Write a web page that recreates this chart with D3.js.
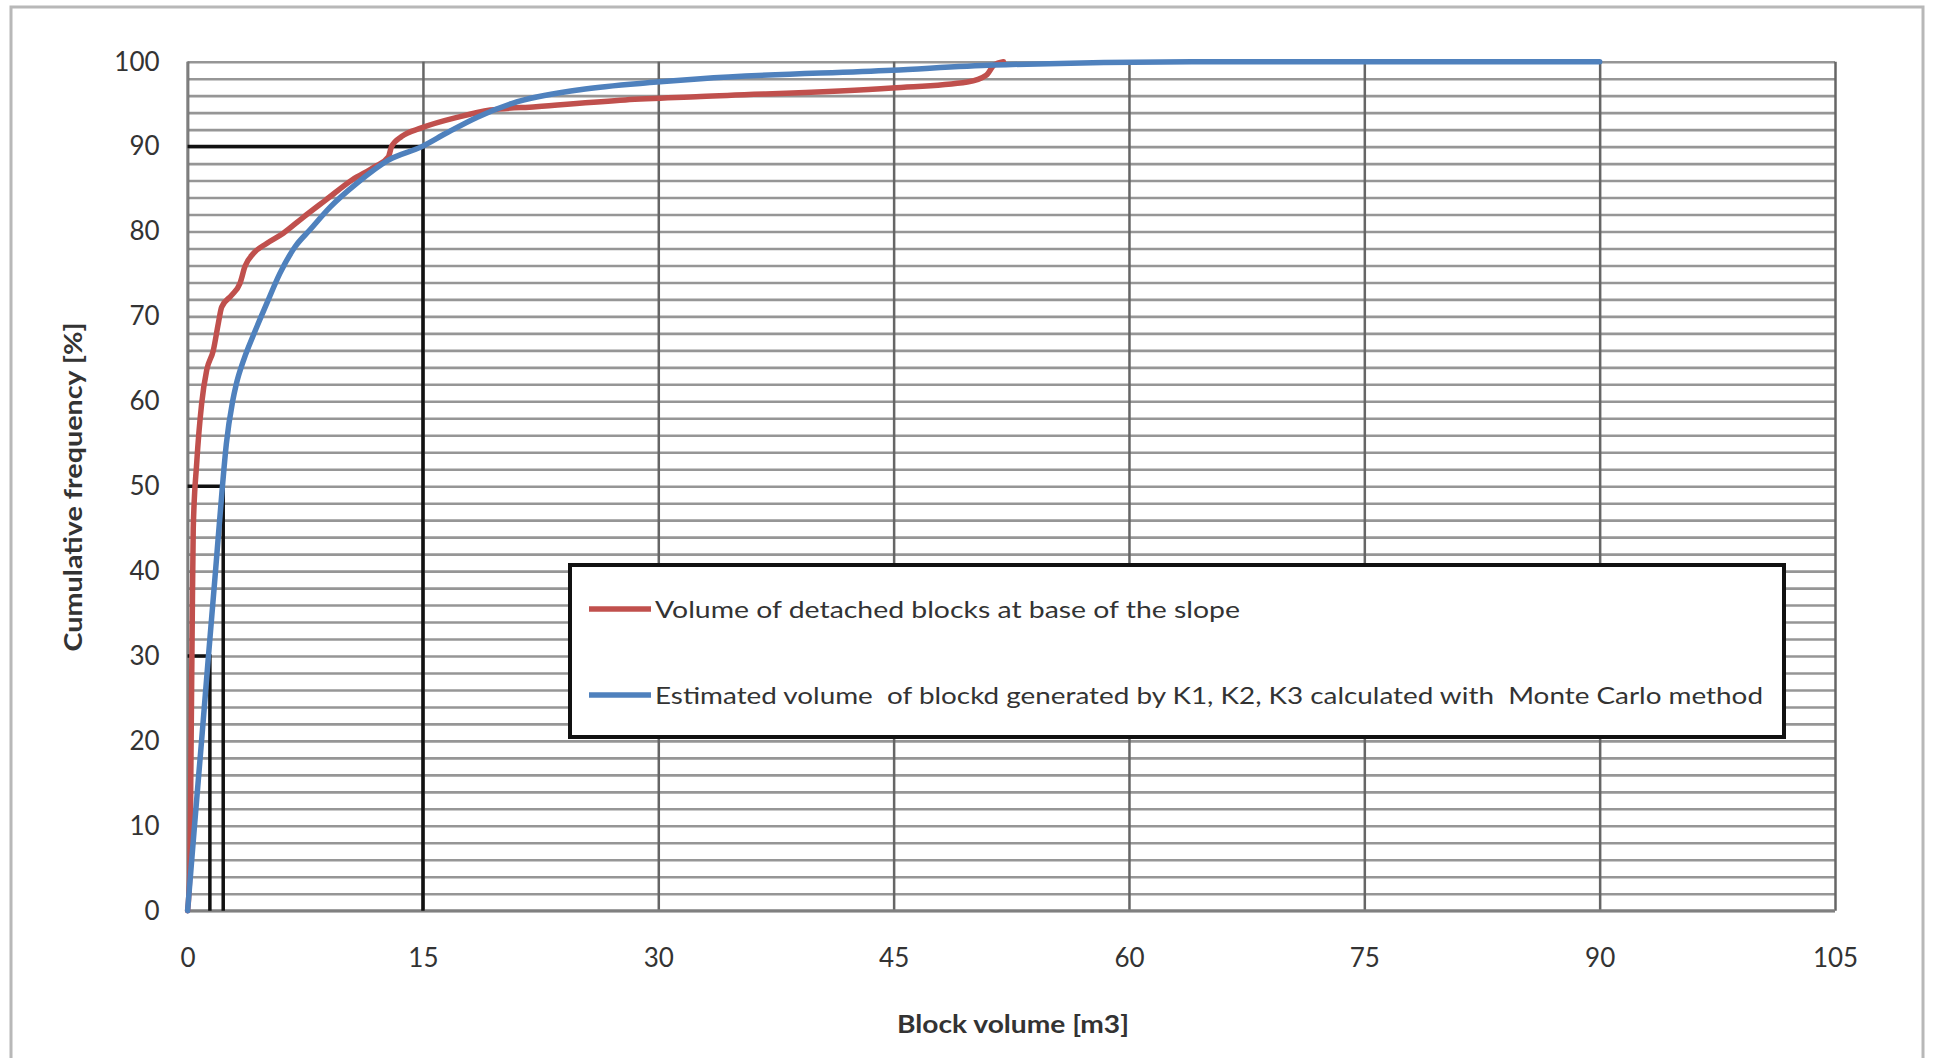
<!DOCTYPE html>
<html>
<head>
<meta charset="utf-8">
<script src="https://cdn.jsdelivr.net/npm/d3@7"></script>
<style>
  html, body { margin: 0; padding: 0; background: #ffffff; }
  svg { display: block; }
  text { font-family: Lato, "Open Sans", sans-serif; fill: #333; }
</style>
</head>
<body>
<svg id="chart" width="1935" height="1058"></svg>
<script>
// ---- data ----
const xTicks = [0, 15, 30, 45, 60, 75, 90, 105];
const yTicks = [0, 10, 20, 30, 40, 50, 60, 70, 80, 90, 100];
const yMinorTicks = d3.range(0, 101, 2);

const redLabel = "Volume of detached blocks at base of the slope";
const redX = [0, 0.15, 0.2, 0.25, 0.3, 0.36, 0.58, 0.9, 1.22, 1.64, 1.96, 2.17, 2.81, 3.34, 3.66, 4.19, 5.04, 6.1, 7.39, 8.8, 10.5, 11.9, 12.8, 13.0, 13.65, 14.9, 17.3, 19.3, 22.2, 27.9, 32.7, 44.9, 49.7, 50.9, 51.4, 52.0];
const redY = [0, 5, 15, 25, 35, 45, 52.7, 59.8, 63.7, 66.0, 69.2, 71.1, 72.5, 73.9, 75.9, 77.4, 78.6, 79.8, 81.7, 83.7, 86.1, 87.6, 88.8, 90.0, 91.2, 92.2, 93.5, 94.3, 94.7, 95.5, 95.9, 96.9, 97.6, 98.4, 99.6, 100];

const blueLabel = "Estimated volume  of blockd generated by K1, K2, K3 calculated with  Monte Carlo method";
const blueX = [0, 0.44, 0.89, 1.33, 1.78, 2.22, 2.47, 2.87, 3.1, 3.6, 4.15, 5.04, 5.89, 6.85, 7.8, 9.1, 10.8, 12.8, 14.93, 16.5, 18.5, 20.7, 25.0, 29.9, 32.7, 44.9, 51.4, 64, 90];
const blueY = [0, 10, 20, 30, 40, 50, 55, 60, 62, 65, 67.6, 71.5, 75.1, 78.2, 80.2, 82.9, 85.7, 88.4, 90, 91.6, 93.5, 95.1, 96.7, 97.6, 98.0, 99.0, 99.6, 100, 100];

// reference (black) guide lines: [x, y] quantile markers
const guideX = [15, 2.27, 1.42];
const guideY = [90, 50, 30];

const xTitle = "Block volume [m3]";
const yTitle = "Cumulative frequency [%]";

// ---- layout ----
const svg = d3.select("#chart");
const L = 187.6, T = 61.7, R = 1835, B = 910.7;

const x = d3.scaleLinear().domain([0, 105]).range([L, R]);
const y = d3.scaleLinear().domain([0, 100]).range([B, T]);

// outer frame
svg.append("rect").attr("x", 11).attr("y", 7).attr("width", 1912).attr("height", 1100)
  .attr("fill", "#fff").attr("stroke", "#b8b8b8").attr("stroke-width", 3);

// horizontal grid (every 2 %)
svg.append("g").attr("transform", `translate(${L},0)`)
  .call(d3.axisLeft(y).tickValues(yMinorTicks).tickSize(-(R - L)).tickFormat(""))
  .call(g => g.select(".domain").remove())
  .call(g => g.selectAll("line").attr("stroke", "#969696").attr("stroke-width", 2.6));

// vertical grid
svg.append("g").attr("transform", `translate(0,${T})`)
  .call(d3.axisBottom(x).tickValues(xTicks).tickSize(B - T).tickFormat(""))
  .call(g => g.select(".domain").remove())
  .call(g => g.selectAll("line").attr("stroke", "#666").attr("stroke-width", 2.5));

// y tick labels
svg.append("g").attr("transform", `translate(${L},0)`)
  .call(d3.axisLeft(y).tickValues(yTicks).tickSize(0).tickPadding(28))
  .call(g => g.select(".domain").remove())
  .call(g => g.selectAll("text").attr("font-size", 26).attr("fill", "#333")
    .style("font-family", "Lato, sans-serif"));

// x tick labels
svg.append("g").attr("transform", `translate(0,${B})`)
  .call(d3.axisBottom(x).tickValues(xTicks).tickSize(0).tickPadding(38))
  .call(g => g.select(".domain").remove())
  .call(g => g.selectAll("text").attr("font-size", 26).attr("fill", "#333")
    .style("font-family", "Lato, sans-serif"));

// axis lines
svg.append("line").attr("x1", L).attr("x2", R).attr("y1", B).attr("y2", B)
  .attr("stroke", "#808080").attr("stroke-width", 3);
svg.append("line").attr("x1", L).attr("x2", L).attr("y1", T).attr("y2", B)
  .attr("stroke", "#808080").attr("stroke-width", 2.5);

// black guide lines
const guides = svg.append("g");
guideX.forEach((gx, i) => {
  const gy = guideY[i];
  guides.append("path")
    .attr("d", d3.line()([[x(0), y(gy)], [x(gx), y(gy)], [x(gx), y(0)]]))
    .attr("fill", "none").attr("stroke", "#111").attr("stroke-width", 3.5);
});

// curves
const line = d3.line().x(d => x(d[0])).y(d => y(d[1])).curve(d3.curveMonotoneX);
const redData = redX.map((v, i) => [v, redY[i]]);
const blueData = blueX.map((v, i) => [v, blueY[i]]);

svg.append("path").datum(redData).attr("d", line)
  .attr("fill", "none").attr("stroke", "#c0504d").attr("stroke-width", 5.5)
  .attr("stroke-linejoin", "round").attr("stroke-linecap", "round");
svg.append("path").datum(blueData).attr("d", line)
  .attr("fill", "none").attr("stroke", "#4f81bd").attr("stroke-width", 5.5)
  .attr("stroke-linejoin", "round").attr("stroke-linecap", "round");

// legend
const lg = svg.append("g");
lg.append("rect").attr("x", 570).attr("y", 565).attr("width", 1214).attr("height", 172)
  .attr("fill", "#fff").attr("stroke", "#111").attr("stroke-width", 4);
const items = [
  { label: redLabel, color: "#c0504d", cy: 609, len: 585 },
  { label: blueLabel, color: "#4f81bd", cy: 695, len: 1108 }
];
items.forEach(it => {
  lg.append("line").attr("x1", 589).attr("x2", 651).attr("y1", it.cy).attr("y2", it.cy)
    .attr("stroke", it.color).attr("stroke-width", 5.5);
  lg.append("text").attr("x", 655).attr("y", it.cy + 8.5)
    .attr("font-size", 24).attr("fill", "#2e2e2e")
    .attr("textLength", it.len).attr("lengthAdjust", "spacingAndGlyphs")
    .style("white-space", "pre")
    .text(it.label);
});

// axis titles
svg.append("text").attr("x", 1013).attr("y", 1033).attr("text-anchor", "middle")
  .attr("font-size", 24).attr("font-weight", "bold").attr("fill", "#222")
  .attr("textLength", 232).attr("lengthAdjust", "spacingAndGlyphs")
  .text(xTitle);
svg.append("text").attr("transform", "translate(82,487) rotate(-90)")
  .attr("text-anchor", "middle")
  .attr("font-size", 24).attr("font-weight", "bold").attr("fill", "#222")
  .attr("textLength", 329).attr("lengthAdjust", "spacingAndGlyphs")
  .text(yTitle);
</script>
</body>
</html>
